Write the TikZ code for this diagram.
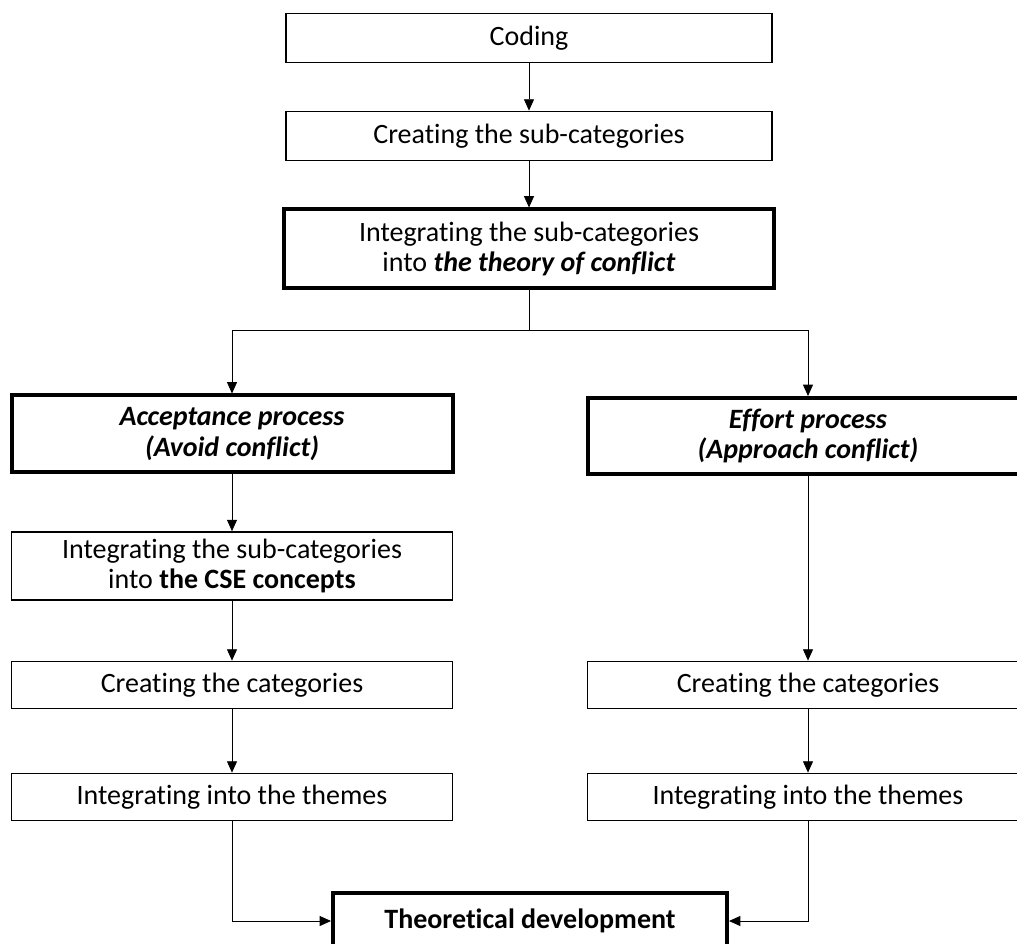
\documentclass[tikz,border=0pt]{standalone}
\usepackage{fontspec}
\setmainfont[Ligatures=NoCommon]{Carlito}
\usetikzlibrary{arrows.meta}

\begin{document}
\begin{tikzpicture}[x=0.75pt,y=-0.75pt,
  box/.style={draw,line width=1.3pt,align=center,inner sep=0pt,
    font=\fontsize{21}{23}\selectfont},
  thickbox/.style={box,line width=3pt},
  conn/.style={-{Triangle[length=8.5pt,width=7.5pt]},line width=0.6pt}]

%Define box sizes
\def\topw{364.5pt}     %Width of the top boxes.
\def\colw{330.75pt}    %Width of the column boxes.
\def\lowh{35.25pt}     %Height of one-line boxes.

\useasboundingbox (0,0) rectangle (1017,944);

% Define coordinates
\coordinate (split) at (529,330);

% TOP
\node[box,minimum width=\topw,minimum height=36.75pt] (coding) at (529,38) {Coding};
\node[box,minimum width=\topw,minimum height=36.75pt] (subcat) at (529,136) {Creating the sub-categories};
\node[thickbox,minimum width=367.5pt,minimum height=59.25pt] (theory) at (529,249)
  {Integrating the sub-categories\\ into \textbf{\textit{the theory of conflict}}};

% LEFT BRANCH
\node[thickbox,minimum width=\colw,minimum height=57.75pt] (accept) at (232,434)
  {\textbf{\textit{Acceptance process}}\\ \textbf{\textit{(Avoid conflict)}}};
\node[box,minimum width=\colw,minimum height=51pt] (cse) at (232,566)
  {Integrating the sub-categories\\ into \textbf{the CSE concepts}};
\node[box,minimum width=\colw,minimum height=\lowh] (catL) at (232,685) {Creating the categories};
\node[box,minimum width=\colw,minimum height=\lowh] (themL) at (232,797) {Integrating into the themes};

% RIGHT BRANCH
\node[thickbox,minimum width=\colw,minimum height=57pt] (effort) at (808,436)
  {\textbf{\textit{Effort process}}\\ \textbf{\textit{(Approach conflict)}}};
\node[box,minimum width=\colw,minimum height=\lowh] (catR) at (808,685) {Creating the categories};
\node[box,minimum width=\colw,minimum height=\lowh] (themR) at (808,797) {Integrating into the themes};

% BOTTOM
\node[thickbox,minimum width=295.5pt,minimum height=42pt] (theo) at (530,921)
  {\textbf{Theoretical development}};

% Connectors
\draw[conn] (coding) -- (subcat);
\draw[conn] (subcat) -- (theory);
\draw[line width=0.6pt] (theory) -- (split);
\draw[conn] (split) -| (accept);
\draw[conn] (split) -| (effort);

\draw[conn] (accept) -- (cse);
\draw[conn] (cse) -- (catL);
\draw[conn] (catL) -- (themL);
\draw[conn] (effort) -- (catR);
\draw[conn] (catR) -- (themR);

\draw[conn] (themL) |- (theo);
\draw[conn] (themR) |- (theo);

\end{tikzpicture}
\end{document}
